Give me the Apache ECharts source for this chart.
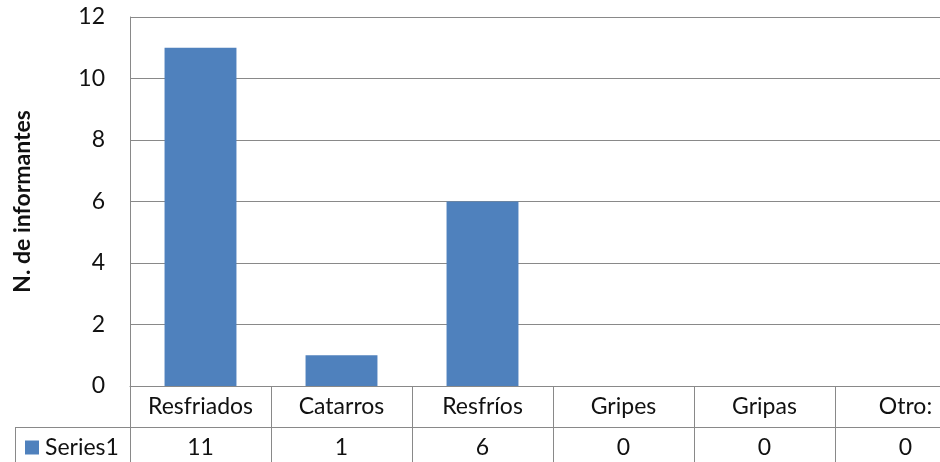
<!DOCTYPE html>
<html>
<head>
<meta charset="utf-8">
<script src="https://cdn.jsdelivr.net/npm/echarts@6/dist/echarts.min.js"></script>
<style>html,body{margin:0;padding:0;background:#fff;overflow:hidden;width:940px;height:462px}#c{width:980px;height:462px}</style>
</head>
<body>
<div id="c"></div>
<script>
var categories = ['Resfriados', 'Catarros', 'Resfríos', 'Gripes', 'Gripas', 'Otro:'];
var series1 = [11, 1, 6, 0, 0, 0];
var seriesName = 'Series1';
var yTitle = 'N. de informantes';

var FONT = 'Lato';
var LINE = '#898989';
var chart = echarts.init(document.getElementById('c'));
chart.setOption({
  animation: false,
  backgroundColor: '#ffffff',
  grid: { left: 130, top: 17, right: 4, bottom: 76, containLabel: false },
  legend: {
    data: [seriesName], left: 25, top: 436, padding: 0,
    icon: 'rect', itemWidth: 14, itemHeight: 14, itemGap: 0,
    textStyle: { fontFamily: FONT, fontSize: 23, color: '#111', padding: [0, 0, 0, 1] }
  },
  xAxis: [{
    type: 'category', data: categories, position: 'bottom',
    axisLine: { show: true, lineStyle: { color: LINE, width: 1 } },
    axisTick: { show: true, alignWithLabel: false, length: 76, lineStyle: { color: LINE, width: 1 } },
    axisLabel: { fontFamily: FONT, fontSize: 23, lineHeight: 23, color: '#111', margin: 9, interval: 0 }
  }, {
    type: 'category', data: series1.map(String), position: 'bottom', offset: 41,
    axisLine: { show: true, lineStyle: { color: LINE, width: 1 } },
    axisTick: { show: false },
    axisLabel: { fontFamily: FONT, fontSize: 23, lineHeight: 23, color: '#111', margin: 9, interval: 0 }
  }],
  yAxis: {
    type: 'value', min: 0, max: 12, interval: 2,
    name: yTitle, nameLocation: 'middle', nameGap: 96, nameRotate: 90,
    nameTextStyle: { fontFamily: FONT, fontSize: 23, fontWeight: 'bold', color: '#111' },
    axisLine: { show: true, lineStyle: { color: LINE, width: 1 } },
    axisTick: { show: false },
    axisLabel: { fontFamily: FONT, fontSize: 23, color: '#111', margin: 25 },
    splitLine: { show: true, lineStyle: { color: LINE, width: 1 } }
  },
  graphic: [
    { type: 'line', shape: { x1: 15, y1: 427.5, x2: 130, y2: 427.5 }, style: { stroke: LINE, lineWidth: 1 } },
    { type: 'line', shape: { x1: 15.5, y1: 427, x2: 15.5, y2: 462 }, style: { stroke: LINE, lineWidth: 1 } }
  ],
  series: [{
    name: seriesName, type: 'bar', data: series1, xAxisIndex: 0,
    barCategoryGap: '49%',
    itemStyle: { color: '#4f81bd', borderWidth: 0 }
  }]
});
</script>
</body>
</html>
